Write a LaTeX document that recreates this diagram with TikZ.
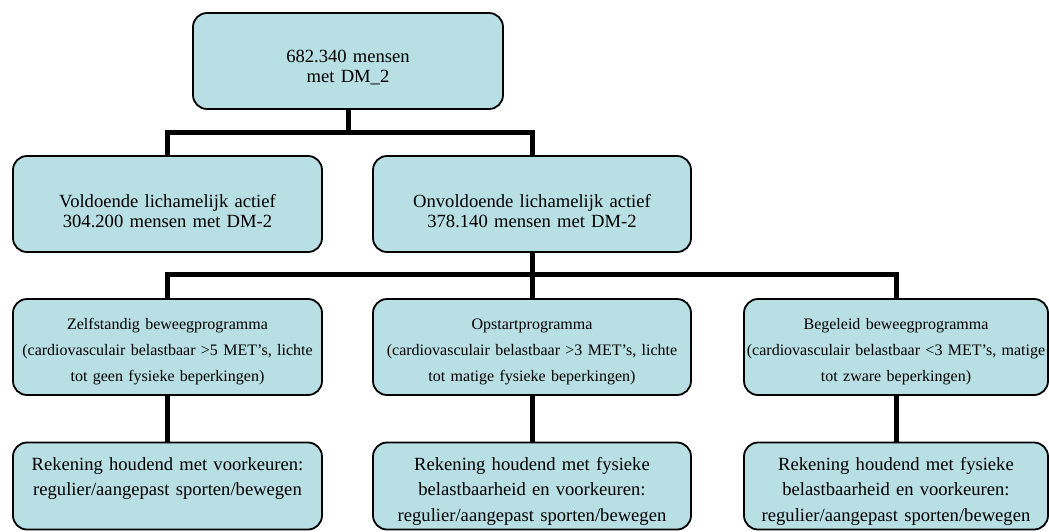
\documentclass[tikz,border=0pt]{standalone}
\usepackage{fontspec}
\setmainfont{Liberation Serif}
\usepackage{tikz}
\definecolor{boxblue}{RGB}{184,223,228}

\begin{document}
\begin{tikzpicture}[x=1pt,y=-1pt,
  box/.style={draw=black, line width=1.8pt, fill=boxblue, rounded corners=14pt, inner sep=0pt, minimum height=96pt},
  txt/.style={anchor=base, inner sep=0pt, text width=320pt, align=center, font=\fontsize{18.6}{20.5}\selectfont},
  small/.style={font=\fontsize{16}{26.3}\selectfont},
  wide/.style={font=\fontsize{18.6}{25.5}\selectfont},
  link/.style={line width=5pt}]
\useasboundingbox (0,0) rectangle (1049,531);
%top:
\node[box, minimum width=310pt] (dm) at (348,61) {};
\node[txt] (dmT) at (348,62) {682.340 mensen\\met DM\_2};
%second row:
\node[box, minimum width=309pt] (vold) at (167.5,204) {};
\node[txt] (voldT) at (167.5,207) {Voldoende lichamelijk actief\\304.200 mensen met DM-2};
\node[box, minimum width=318pt] (onvold) at (532,204) {};
\node[txt] (onvoldT) at (532,207) {Onvoldoende lichamelijk actief\\378.140 mensen met DM-2};
%third row:
\node[box, minimum width=309pt] (zelf) at (167.5,347) {};
\node[txt, small] (zelfT) at (167.5,329) {Zelfstandig beweegprogramma\\(cardiovasculair belastbaar >5 MET’s, lichte\\tot geen fysieke beperkingen)};
\node[box, minimum width=318pt] (opstart) at (532,347) {};
\node[txt, small] (opstartT) at (532,329) {Opstartprogramma\\(cardiovasculair belastbaar >3 MET’s, lichte\\tot matige fysieke beperkingen)};
\node[box, minimum width=304pt] (begel) at (896,347) {};
\node[txt, small] (begelT) at (896,329) {Begeleid beweegprogramma\\(cardiovasculair belastbaar <3 MET’s, matige\\tot zware beperkingen)};
%bottom row:
\node[box, minimum width=309pt, minimum height=87pt] (rekA) at (167.5,486) {};
\node[txt, wide] (rekAT) at (167.5,470) {Rekening houdend met voorkeuren:\\regulier/aangepast sporten/bewegen};
\node[box, minimum width=318pt, minimum height=87pt] (rekB) at (532,486) {};
\node[txt, wide] (rekBT) at (532,470) {Rekening houdend met fysieke\\belastbaarheid en voorkeuren:\\regulier/aangepast sporten/bewegen};
\node[box, minimum width=304pt, minimum height=87pt] (rekC) at (896,486) {};
\node[txt, wide] (rekCT) at (896,470) {Rekening houdend met fysieke\\belastbaarheid en voorkeuren:\\regulier/aangepast sporten/bewegen};
%links:
\draw[link] (dm.south) -- ++(0,23) -| (vold.north);
\draw[link] (dm.south) -- ++(0,23) -| (onvold.north);
\draw[link] (onvold.south) -- ++(0,22) -| (zelf.north);
\draw[link] (onvold.south) -- ++(0,22) -| (opstart.north);
\draw[link] (onvold.south) -- ++(0,22) -| (begel.north);
\draw[link] (zelf) -- (rekA);
\draw[link] (opstart) -- (rekB);
\draw[link] (begel) -- (rekC);
\end{tikzpicture}
\end{document}
